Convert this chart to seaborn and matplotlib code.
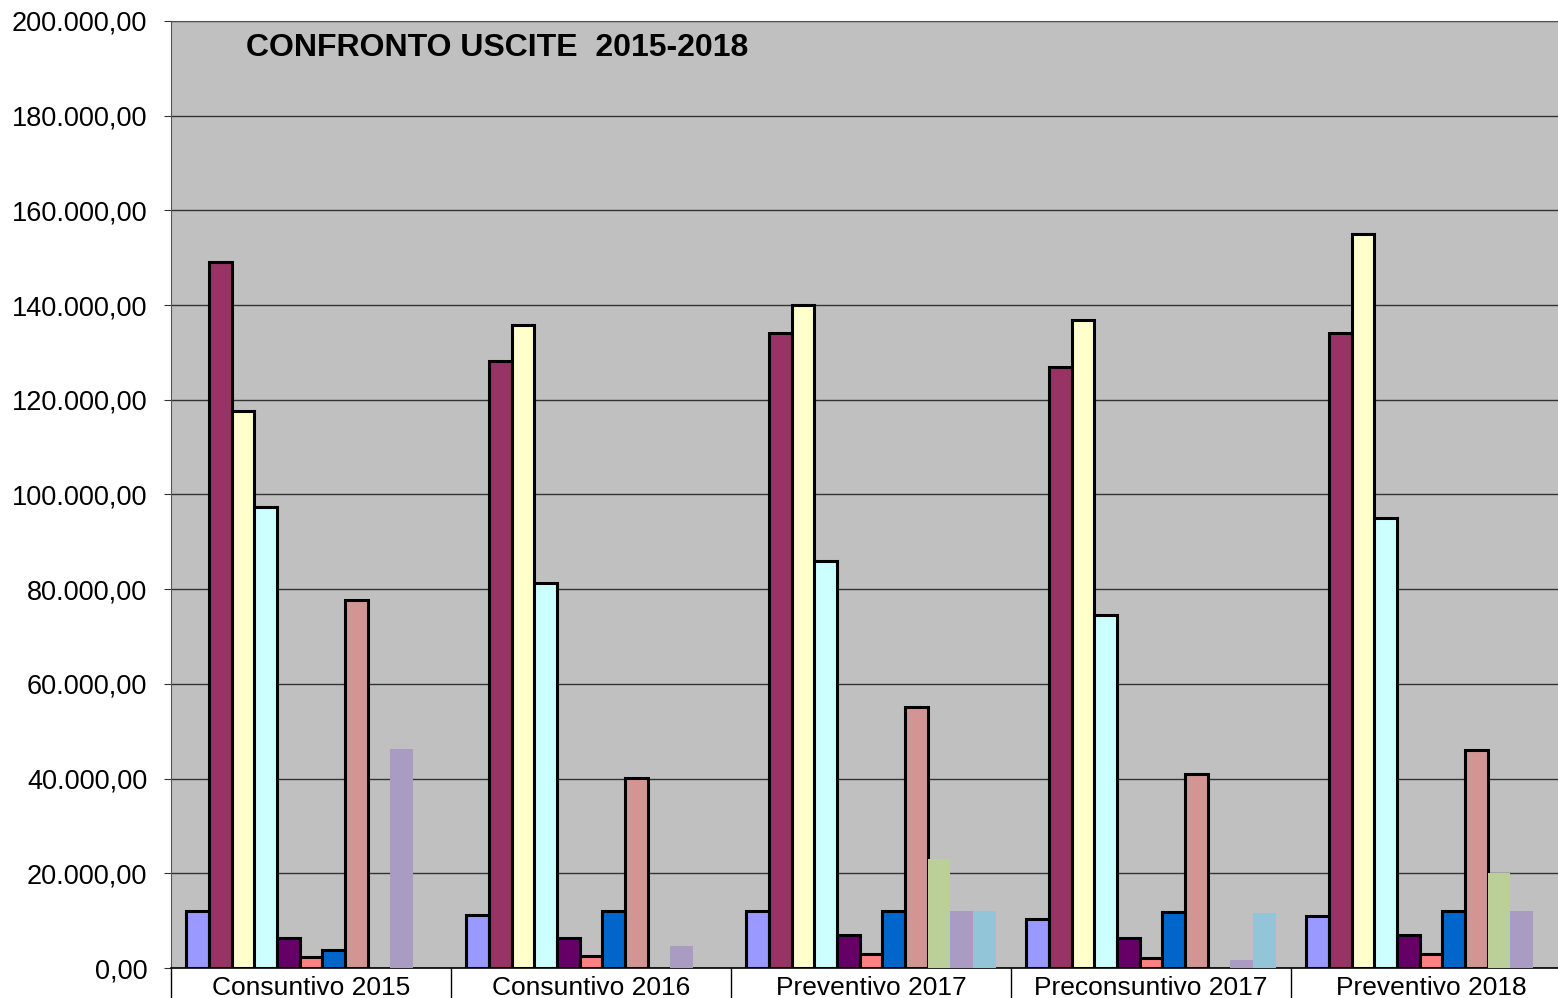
"""Confronto uscite 2015-2018: grouped bars in Excel style."""

import numpy as np
import pandas as pd
import matplotlib
matplotlib.use("Agg")
import matplotlib.pyplot as plt
from matplotlib.ticker import FuncFormatter, FixedLocator
import seaborn as sns

# --- data (in euro) ---
categories = ["Consuntivo 2015", "Consuntivo 2016", "Preventivo 2017",
              "Preconsuntivo 2017", "Preventivo 2018"]
series_names = [f"Voce {i}" for i in range(1, 12)]

voce_1 = [12000, 11200, 12100, 10300, 11000]
voce_2 = [149100, 128200, 134100, 126900, 134100]
voce_3 = [117600, 135800, 140000, 136900, 155000]
voce_4 = [97400, 81300, 86000, 74600, 95000]
voce_5 = [6300, 6300, 6900, 6300, 7000]
voce_6 = [2300, 2500, 3000, 2200, 3000]
voce_7 = [3800, 12000, 12100, 11800, 12100]
voce_8 = [77700, 40100, 55100, 41000, 46000]
voce_9 = [0, 0, 23000, 0, 20000]
voce_10 = [46300, 4600, 12100, 1600, 12100]
voce_11 = [0, 0, 12100, 11700, 0]

series_values = [voce_1, voce_2, voce_3, voce_4, voce_5, voce_6,
                 voce_7, voce_8, voce_9, voce_10, voce_11]

colors = ["#9999FF", "#993366", "#FFFFCC", "#CCFFFF", "#660066", "#FF8080",
          "#0066CC", "#D39494", "#BBCF99", "#AA9BC2", "#93C5D8"]
no_edge = {"Voce 9", "Voce 10", "Voce 11"}

rows = []
for name, vals in zip(series_names, series_values):
    for cat, v in zip(categories, vals):
        rows.append({"Periodo": cat, "Voce": name, "Importo": v})
df = pd.DataFrame(rows)

# --- figure ---
plt.rcParams["font.family"] = ["Liberation Sans", "DejaVu Sans"]
W, H = 1558, 998
fig = plt.figure(figsize=(W / 100, H / 100), dpi=100)
# plot area runs a little past the right edge of the picture, as in the original
ax = fig.add_axes([171 / W, 30 / H, 1400 / W, 947 / H])
ax.set_facecolor("#C0C0C0")

sns.barplot(data=df, x="Periodo", y="Importo", hue="Voce", order=categories,
            hue_order=series_names, palette=dict(zip(series_names, colors)),
            width=0.89, gap=0, errorbar=None, edgecolor="black", linewidth=2.2,
            saturation=1, legend=False, ax=ax, zorder=3)

for name, cont in zip(series_names, ax.containers):
    if name in no_edge:
        for p in cont.patches:
            p.set_linewidth(0)

ax.set_ylim(0, 200000)
ax.set_xlim(-0.5, len(categories) - 0.5)
ax.yaxis.set_major_locator(FixedLocator(np.arange(0, 200001, 20000)))
ax.yaxis.set_major_formatter(FuncFormatter(
    lambda v, _: f"{v:,.2f}".replace(",", "X").replace(".", ",").replace("X", ".")))
ax.grid(axis="y", color="#333333", linewidth=1, zorder=1)
ax.set_axisbelow(True)
ax.tick_params(axis="y", labelsize=19.5, length=5, pad=12, color="#333333")

# category separators below axis, labels on minor ticks at centres
ax.set_xticks(np.arange(-0.5, len(categories), 1.0))
ax.set_xticklabels([])
ax.tick_params(axis="x", which="major", length=22, width=1, color="black", direction="out")
ax.set_xticks(np.arange(len(categories)), minor=True)
ax.set_xticklabels(categories, minor=True)
ax.tick_params(axis="x", which="minor", length=0, labelsize=19, pad=6)

ax.set_xlabel("")
ax.set_ylabel("")
for side in ["top", "left"]:
    ax.spines[side].set_color("#555555")
ax.spines["right"].set_visible(False)
ax.spines["bottom"].set_color("black")
ax.spines["bottom"].set_linewidth(1.2)

ax.text(75 / 1400, 0.971, "CONFRONTO USCITE  2015-2018", transform=ax.transAxes,
        ha="left", va="center", fontsize=23, fontweight="bold")

fig.savefig("out.png", dpi=100)
